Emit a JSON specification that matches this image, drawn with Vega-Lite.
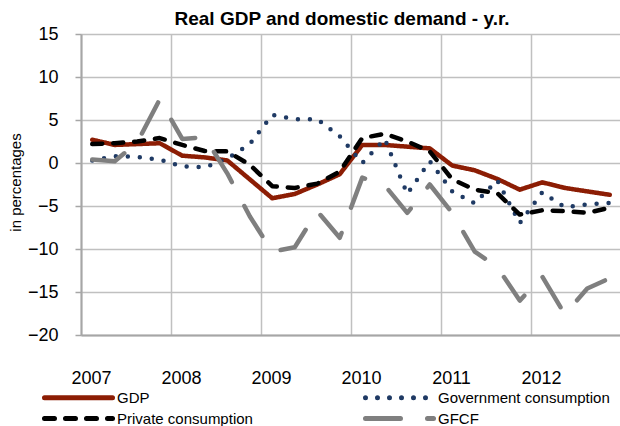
{
  "$schema": "https://vega.github.io/schema/vega-lite/v6.json",
  "width": 540,
  "height": 301,
  "autosize": {"type": "none"},
  "padding": {"left": 81, "top": 34, "right": 0, "bottom": 91},
  "background": "white",
  "config": {
    "font": "Liberation Sans",
    "view": {"stroke": null},
    "axis": {"labelFont": "Liberation Sans", "titleFont": "Liberation Sans", "labelColor": "#000000", "titleColor": "#000000"}
  },
  "title": {
    "text": "Real GDP and domestic demand - y.r.",
    "fontSize": 19,
    "fontWeight": "bold",
    "font": "Liberation Sans",
    "color": "#000000",
    "anchor": "middle",
    "baseline": "alphabetic",
    "offset": -19,
    "dx": -9
  },
  "data": {
    "values": [
      {"t": 2007.125, "GDP": 2.7, "Government consumption": 0.3, "Private consumption": 2.2, "GFCF": 0.4},
      {"t": 2007.375, "GDP": 2.1, "Government consumption": 0.8, "Private consumption": 2.3, "GFCF": 0.2},
      {"t": 2007.625, "GDP": 2.2, "Government consumption": 0.7, "Private consumption": 2.5, "GFCF": 2.4},
      {"t": 2007.875, "GDP": 2.3, "Government consumption": 0.4, "Private consumption": 2.9, "GFCF": 7.4},
      {"t": 2008.125, "GDP": 0.85, "Government consumption": -0.4, "Private consumption": 2.1, "GFCF": 2.8},
      {"t": 2008.375, "GDP": 0.65, "Government consumption": -0.5, "Private consumption": 1.4, "GFCF": 3.0},
      {"t": 2008.625, "GDP": 0.3, "Government consumption": 0.5, "Private consumption": 1.35, "GFCF": -1.2},
      {"t": 2008.875, "GDP": -1.9, "Government consumption": 2.2, "Private consumption": -0.2, "GFCF": -6.2},
      {"t": 2009.125, "GDP": -4.1, "Government consumption": 5.6, "Private consumption": -2.7, "GFCF": -10.3},
      {"t": 2009.375, "GDP": -3.6, "Government consumption": 5.1, "Private consumption": -2.9, "GFCF": -9.8},
      {"t": 2009.625, "GDP": -2.5, "Government consumption": 5.1, "Private consumption": -2.4, "GFCF": -5.6},
      {"t": 2009.875, "GDP": -1.3, "Government consumption": 3.1, "Private consumption": -1.0, "GFCF": -8.7},
      {"t": 2010.125, "GDP": 2.1, "Government consumption": 0.0, "Private consumption": 2.9, "GFCF": -1.7},
      {"t": 2010.375, "GDP": 2.1, "Government consumption": 2.8, "Private consumption": 3.4, "GFCF": -2.6},
      {"t": 2010.625, "GDP": 1.9, "Government consumption": -3.6, "Private consumption": 2.5, "GFCF": -5.8},
      {"t": 2010.875, "GDP": 1.7, "Government consumption": 0.2, "Private consumption": 1.35, "GFCF": -2.5},
      {"t": 2011.125, "GDP": -0.3, "Government consumption": -3.3, "Private consumption": -1.9, "GFCF": -5.8},
      {"t": 2011.375, "GDP": -0.85, "Government consumption": -4.7, "Private consumption": -3.1, "GFCF": -10.3},
      {"t": 2011.625, "GDP": -1.85, "Government consumption": -2.0, "Private consumption": -3.5, "GFCF": -12.1},
      {"t": 2011.875, "GDP": -3.1, "Government consumption": -7.0, "Private consumption": -6.0, "GFCF": -16.0},
      {"t": 2012.125, "GDP": -2.25, "Government consumption": -3.4, "Private consumption": -5.5, "GFCF": -13.2},
      {"t": 2012.375, "GDP": -2.9, "Government consumption": -5.15, "Private consumption": -5.6, "GFCF": -17.6},
      {"t": 2012.625, "GDP": -3.3, "Government consumption": -4.8, "Private consumption": -5.8, "GFCF": -14.6},
      {"t": 2012.875, "GDP": -3.7, "Government consumption": -4.65, "Private consumption": -5.2, "GFCF": -13.4}
    ]
  },
  "transform": [
    {"fold": ["GDP", "Government consumption", "Private consumption", "GFCF"], "as": ["series", "value"]}
  ],
  "mark": {"type": "line", "strokeWidth": 4.5, "strokeCap": "round", "strokeJoin": "round", "clip": false},
  "encoding": {
    "x": {
      "field": "t",
      "type": "quantitative",
      "scale": {"domain": [2007, 2013], "nice": false, "zero": false},
      "axis": {
        "title": null,
        "values": [2007, 2008, 2009, 2010, 2011, 2012, 2013],
        "format": "d",
        "labelExpr": "datum.value < 2013 ? datum.label : ''",
        "grid": true,
        "gridColor": "#C0C0C0",
        "gridWidth": 1.5,
        "ticks": false,
        "tickSize": 0,
        "domainColor": "#A6A6A6",
        "domainWidth": 2,
        "labelFontSize": 18,
        "labelPadding": 34,
        "labelOffset": 10,
        "labelOverlap": false,
        "labelFlush": false
      }
    },
    "y": {
      "field": "value",
      "type": "quantitative",
      "scale": {"domain": [-20, 15], "nice": false, "zero": false},
      "axis": {
        "title": "in percentages",
        "titleFontSize": 15,
        "titleFontWeight": "normal",
        "titleX": -58,
        "titleY": 148,
        "titleAlign": "center",
        "values": [-20, -15, -10, -5, 0, 5, 10, 15],
        "grid": true,
        "gridColor": "#C0C0C0",
        "gridWidth": 1.5,
        "tickColor": "#A6A6A6",
        "tickWidth": 1.5,
        "tickSize": 6,
        "domainColor": "#A6A6A6",
        "domainWidth": 2,
        "labelFontSize": 18,
        "labelPadding": 17
      }
    },
    "color": {
      "field": "series",
      "type": "nominal",
      "scale": {
        "domain": ["GDP", "Government consumption", "Private consumption", "GFCF"],
        "range": ["#8C1D04", "#1F3A64", "#000000", "#7F7F7F"]
      },
      "legend": {
        "title": null,
        "orient": "none",
        "direction": "horizontal",
        "legendX": -12,
        "legendY": 354,
        "columns": 2,
        "columnPadding": 102,
        "rowPadding": 0,
        "padding": 0,
        "symbolType": "M-5,0H5",
        "symbolSize": 185,
        "symbolStrokeWidth": 5,
        "labelFontSize": 15,
        "labelFont": "Liberation Sans",
        "labelColor": "#000000",
        "labelOffset": 29,
        "labelLimit": 300,
        "encode": {"symbols": {"update": {"strokeCap": {"value": "round"}}}}
      }
    },
    "strokeDash": {
      "field": "series",
      "type": "nominal",
      "scale": {
        "domain": ["GDP", "Government consumption", "Private consumption", "GFCF"],
        "range": [[1, 0], [0, 12], [10, 11], [35, 27]]
      },
      "legend": {
        "title": null,
        "orient": "none",
        "direction": "horizontal",
        "legendX": -12,
        "legendY": 354,
        "columns": 2,
        "columnPadding": 102,
        "rowPadding": 0,
        "padding": 0,
        "symbolType": "M-5,0H5",
        "symbolSize": 185,
        "symbolStrokeWidth": 5,
        "labelFontSize": 15,
        "labelFont": "Liberation Sans",
        "labelColor": "#000000",
        "labelOffset": 29,
        "labelLimit": 300,
        "encode": {"symbols": {"update": {"strokeCap": {"value": "round"}}}}
      }
    }
  }
}
